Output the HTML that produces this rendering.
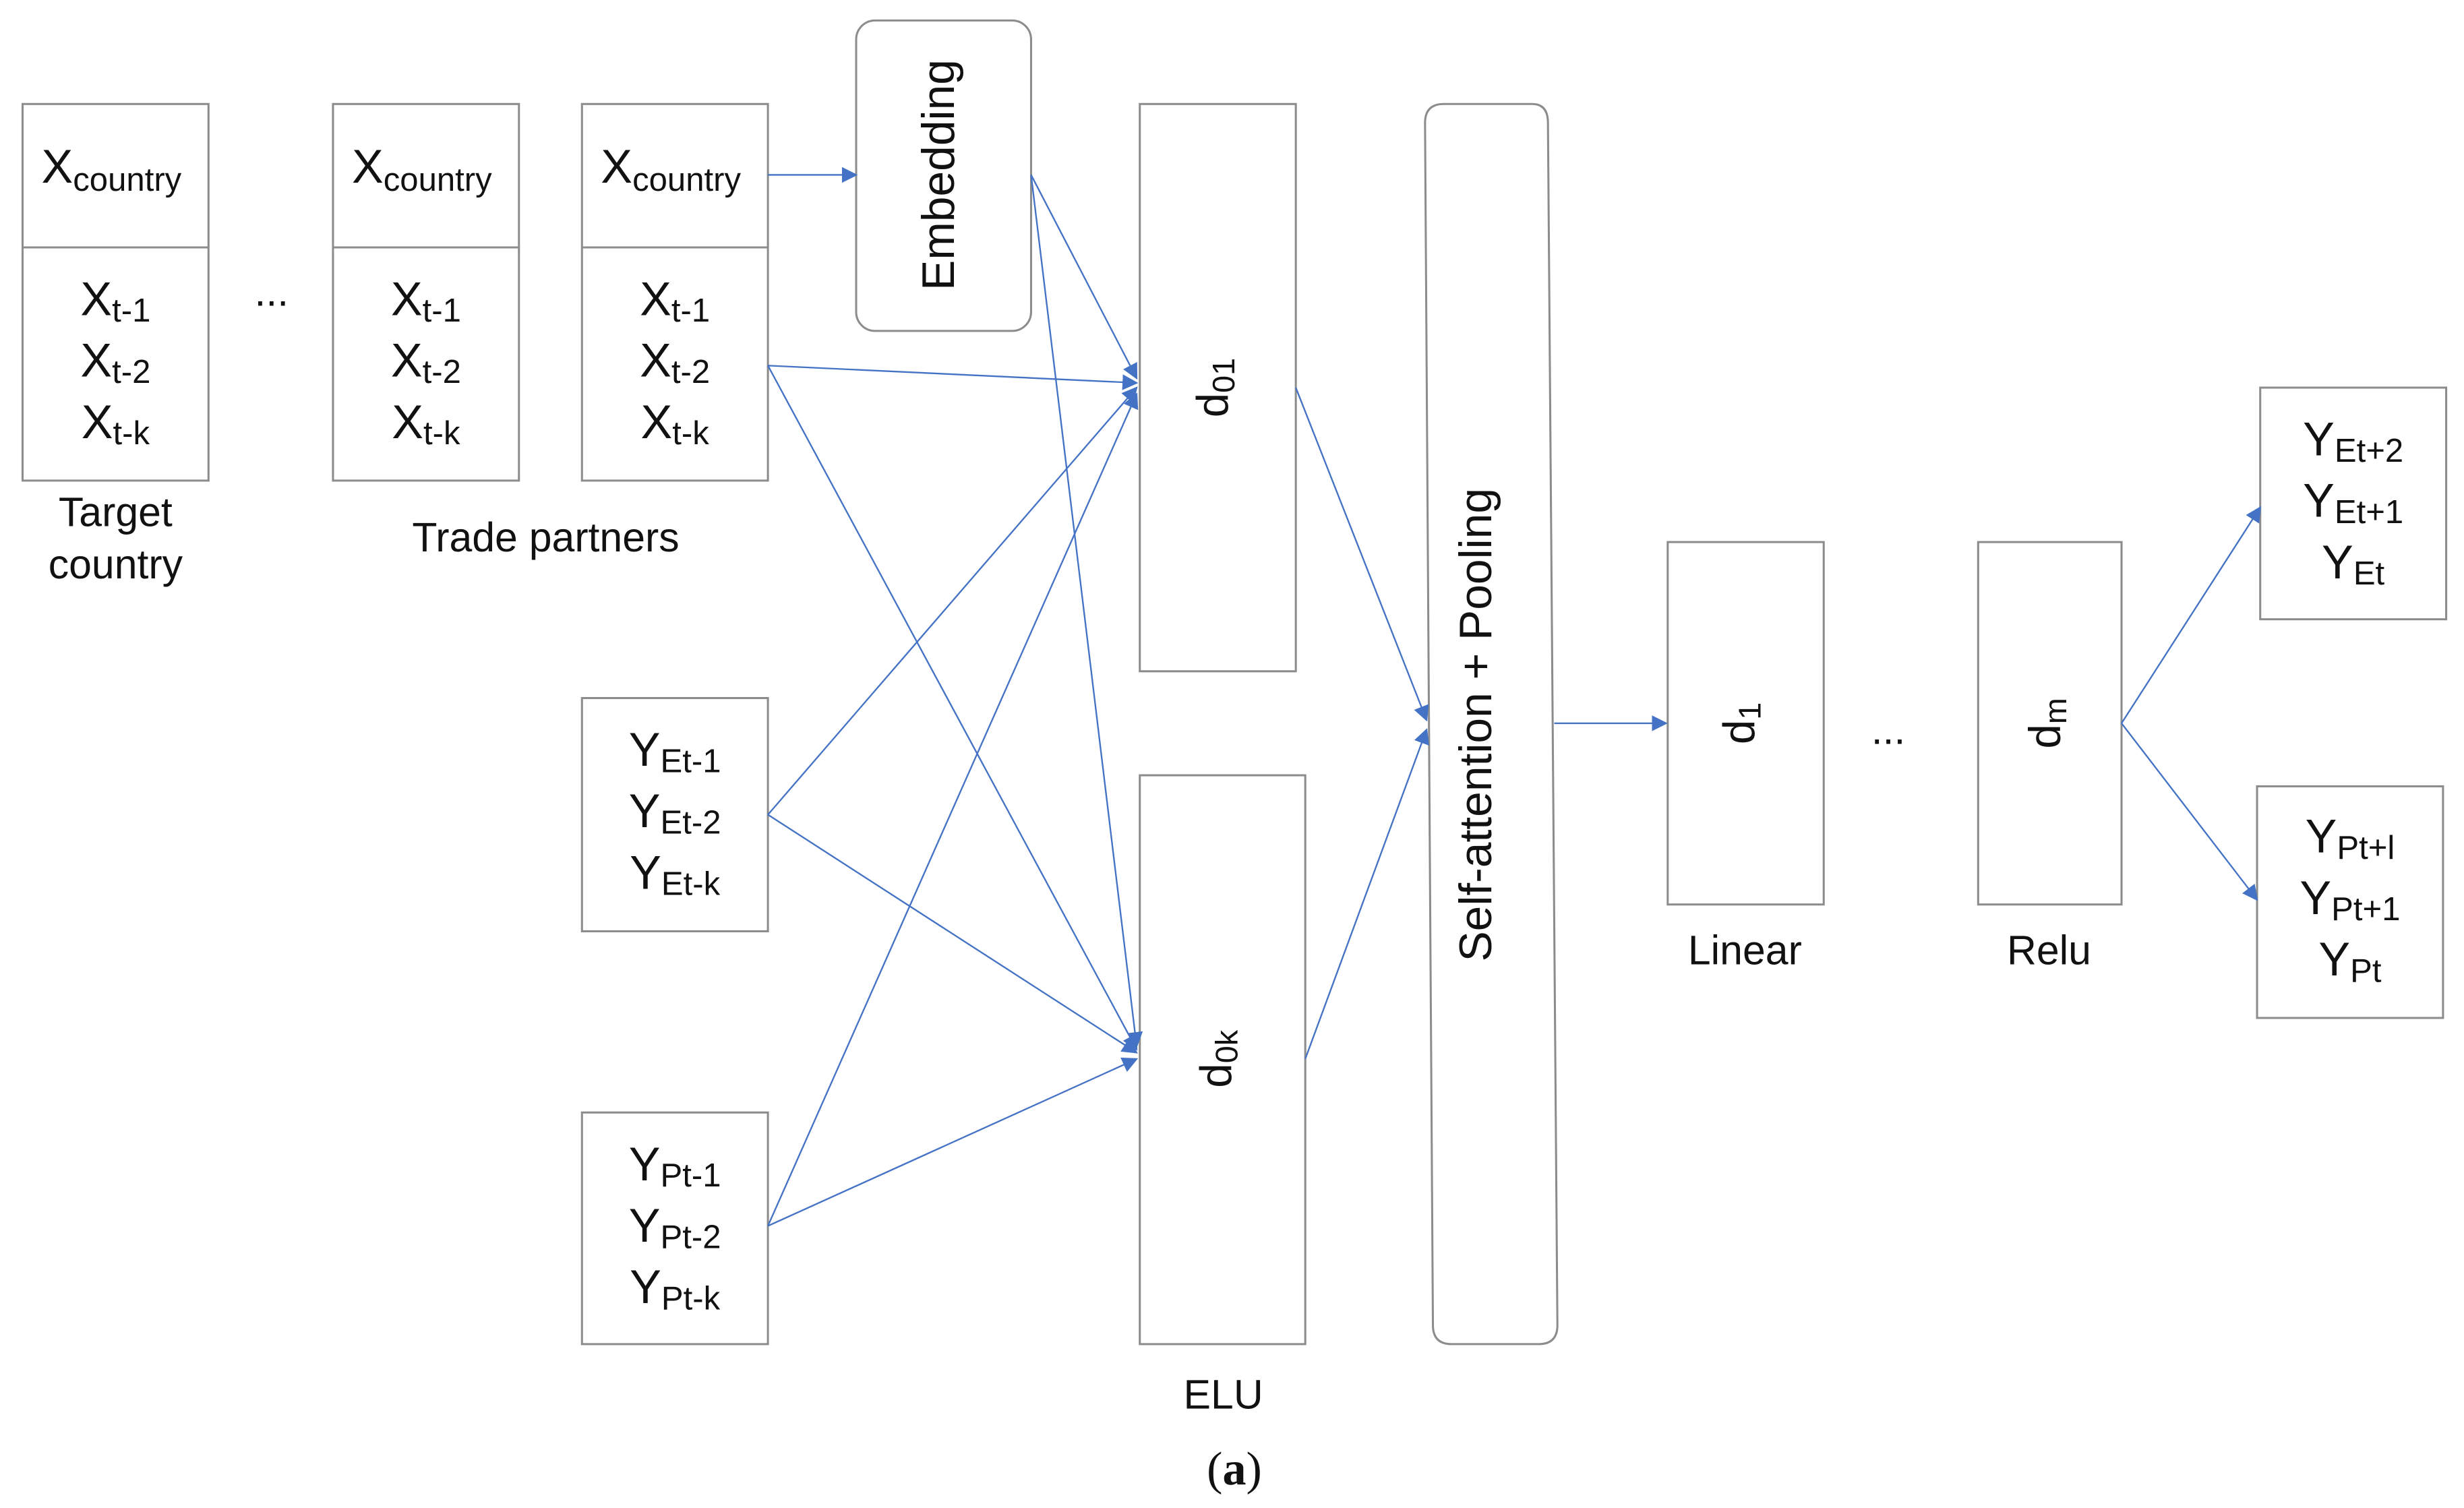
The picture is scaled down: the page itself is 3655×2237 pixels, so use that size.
<!DOCTYPE html>
<html><head><meta charset="utf-8"><style>
html,body{margin:0;padding:0;background:#fff}
svg{display:block}
text{font-family:"Liberation Sans",Arial,sans-serif;fill:#111}
</style></head><body>
<svg width="3655" height="2237" viewBox="0 0 1563 957" xmlns="http://www.w3.org/2000/svg">
<defs>
<marker id="a" markerWidth="10" markerHeight="10" refX="9" refY="5" orient="auto" markerUnits="userSpaceOnUse">
<path d="M0,0 L10,5 L0,10 z" fill="#4472C4"/></marker>
</defs>
<g fill="none" stroke="#8c8c8c" stroke-width="1.3">
<rect x="14" y="66" width="118" height="239"/><line x1="14" y1="157" x2="132" y2="157"/>
<rect x="211" y="66" width="118" height="239"/><line x1="211" y1="157" x2="329" y2="157"/>
<rect x="369" y="66" width="118" height="239"/><line x1="369" y1="157" x2="487" y2="157"/>
<rect x="543" y="13" width="111" height="197" rx="12"/>
<rect x="723" y="66" width="99" height="360"/>
<rect x="723" y="492" width="105" height="361"/>
<path d="M916,66 L972,66 Q982,66 982,78 L988,841 Q988,853 976,853 L921,853 Q909,853 909,841 L904,78 Q904,66 916,66 z"/>
<rect x="1058" y="344" width="99" height="230"/>
<rect x="1255" y="344" width="91" height="230"/>
<rect x="1434" y="246" width="118" height="147"/>
<rect x="1432" y="499" width="118" height="147"/>
<rect x="369" y="443" width="118" height="148"/>
<rect x="369" y="706" width="118" height="147"/>
</g>
<g stroke="#4472C4" stroke-width="1" fill="none" marker-end="url(#a)">
<line x1="487" y1="111" x2="543" y2="111"/>
<line x1="654" y1="111" x2="721" y2="240"/>
<line x1="654" y1="111" x2="721" y2="664"/>
<line x1="487" y1="232" x2="721" y2="243"/>
<line x1="487" y1="232" x2="721" y2="666"/>
<line x1="487" y1="517" x2="721" y2="246"/>
<line x1="487" y1="517" x2="721" y2="668"/>
<line x1="487" y1="778" x2="721" y2="250"/>
<line x1="487" y1="778" x2="721" y2="672"/>
<line x1="822" y1="246" x2="905" y2="457"/>
<line x1="828" y1="672" x2="905" y2="463"/>
<line x1="986" y1="459" x2="1057" y2="459"/>
<line x1="1346" y1="459" x2="1434" y2="322"/>
<line x1="1346" y1="459" x2="1432" y2="571"/>
</g>
<g font-size="30">
<text x="26" y="116">X<tspan font-size="21" dy="5">country</tspan></text>
<text x="223" y="116">X<tspan font-size="21" dy="5">country</tspan></text>
<text x="381" y="116">X<tspan font-size="21" dy="5">country</tspan></text>
<g text-anchor="middle">
<text x="73" y="200">X<tspan font-size="21" dy="4">t-1</tspan></text>
<text x="73" y="239">X<tspan font-size="21" dy="4">t-2</tspan></text>
<text x="73" y="278">X<tspan font-size="21" dy="4">t-k</tspan></text>
<text x="270" y="200">X<tspan font-size="21" dy="4">t-1</tspan></text>
<text x="270" y="239">X<tspan font-size="21" dy="4">t-2</tspan></text>
<text x="270" y="278">X<tspan font-size="21" dy="4">t-k</tspan></text>
<text x="428" y="200">X<tspan font-size="21" dy="4">t-1</tspan></text>
<text x="428" y="239">X<tspan font-size="21" dy="4">t-2</tspan></text>
<text x="428" y="278">X<tspan font-size="21" dy="4">t-k</tspan></text>
<text x="428" y="486">Y<tspan font-size="21" dy="4">Et-1</tspan></text>
<text x="428" y="525">Y<tspan font-size="21" dy="4">Et-2</tspan></text>
<text x="428" y="564">Y<tspan font-size="21" dy="4">Et-k</tspan></text>
<text x="428" y="749">Y<tspan font-size="21" dy="4">Pt-1</tspan></text>
<text x="428" y="788">Y<tspan font-size="21" dy="4">Pt-2</tspan></text>
<text x="428" y="827">Y<tspan font-size="21" dy="4">Pt-k</tspan></text>
<text x="1493" y="289">Y<tspan font-size="21" dy="4">Et+2</tspan></text>
<text x="1493" y="328">Y<tspan font-size="21" dy="4">Et+1</tspan></text>
<text x="1493" y="367">Y<tspan font-size="21" dy="4">Et</tspan></text>
<text x="1491" y="541">Y<tspan font-size="21" dy="4">Pt+l</tspan></text>
<text x="1491" y="580">Y<tspan font-size="21" dy="4">Pt+1</tspan></text>
<text x="1491" y="619">Y<tspan font-size="21" dy="4">Pt</tspan></text>
</g>
</g>
<g font-size="26" text-anchor="middle">
<text x="73" y="334">Target</text>
<text x="73" y="367">country</text>
<text x="346" y="350">Trade partners</text>
<text x="172" y="194">...</text>
<text x="1198" y="472">...</text>
<text x="1107" y="612">Linear</text>
<text x="1300" y="612">Relu</text>
<text x="776" y="894">ELU</text>
<text transform="translate(595,111) rotate(-90)" font-size="29" dy="10">Embedding</text>
<text transform="translate(936,460) rotate(-90)" font-size="29" dy="10">Self-attention + Pooling</text>
<text transform="translate(769,246) rotate(-90)" font-size="28" dy="10">d<tspan font-size="20" dy="4">01</tspan></text>
<text transform="translate(771,672) rotate(-90)" font-size="28" dy="10">d<tspan font-size="20" dy="4">0k</tspan></text>
<text transform="translate(1103,459) rotate(-90)" font-size="28" dy="10">d<tspan font-size="20" dy="4">1</tspan></text>
<text transform="translate(1297,459) rotate(-90)" font-size="28" dy="10">d<tspan font-size="20" dy="4">m</tspan></text>
<text x="783" y="942" font-size="30" style="font-family:'Liberation Serif',serif">(<tspan font-weight="bold">a</tspan>)</text>
</g>
</svg>
</body></html>
